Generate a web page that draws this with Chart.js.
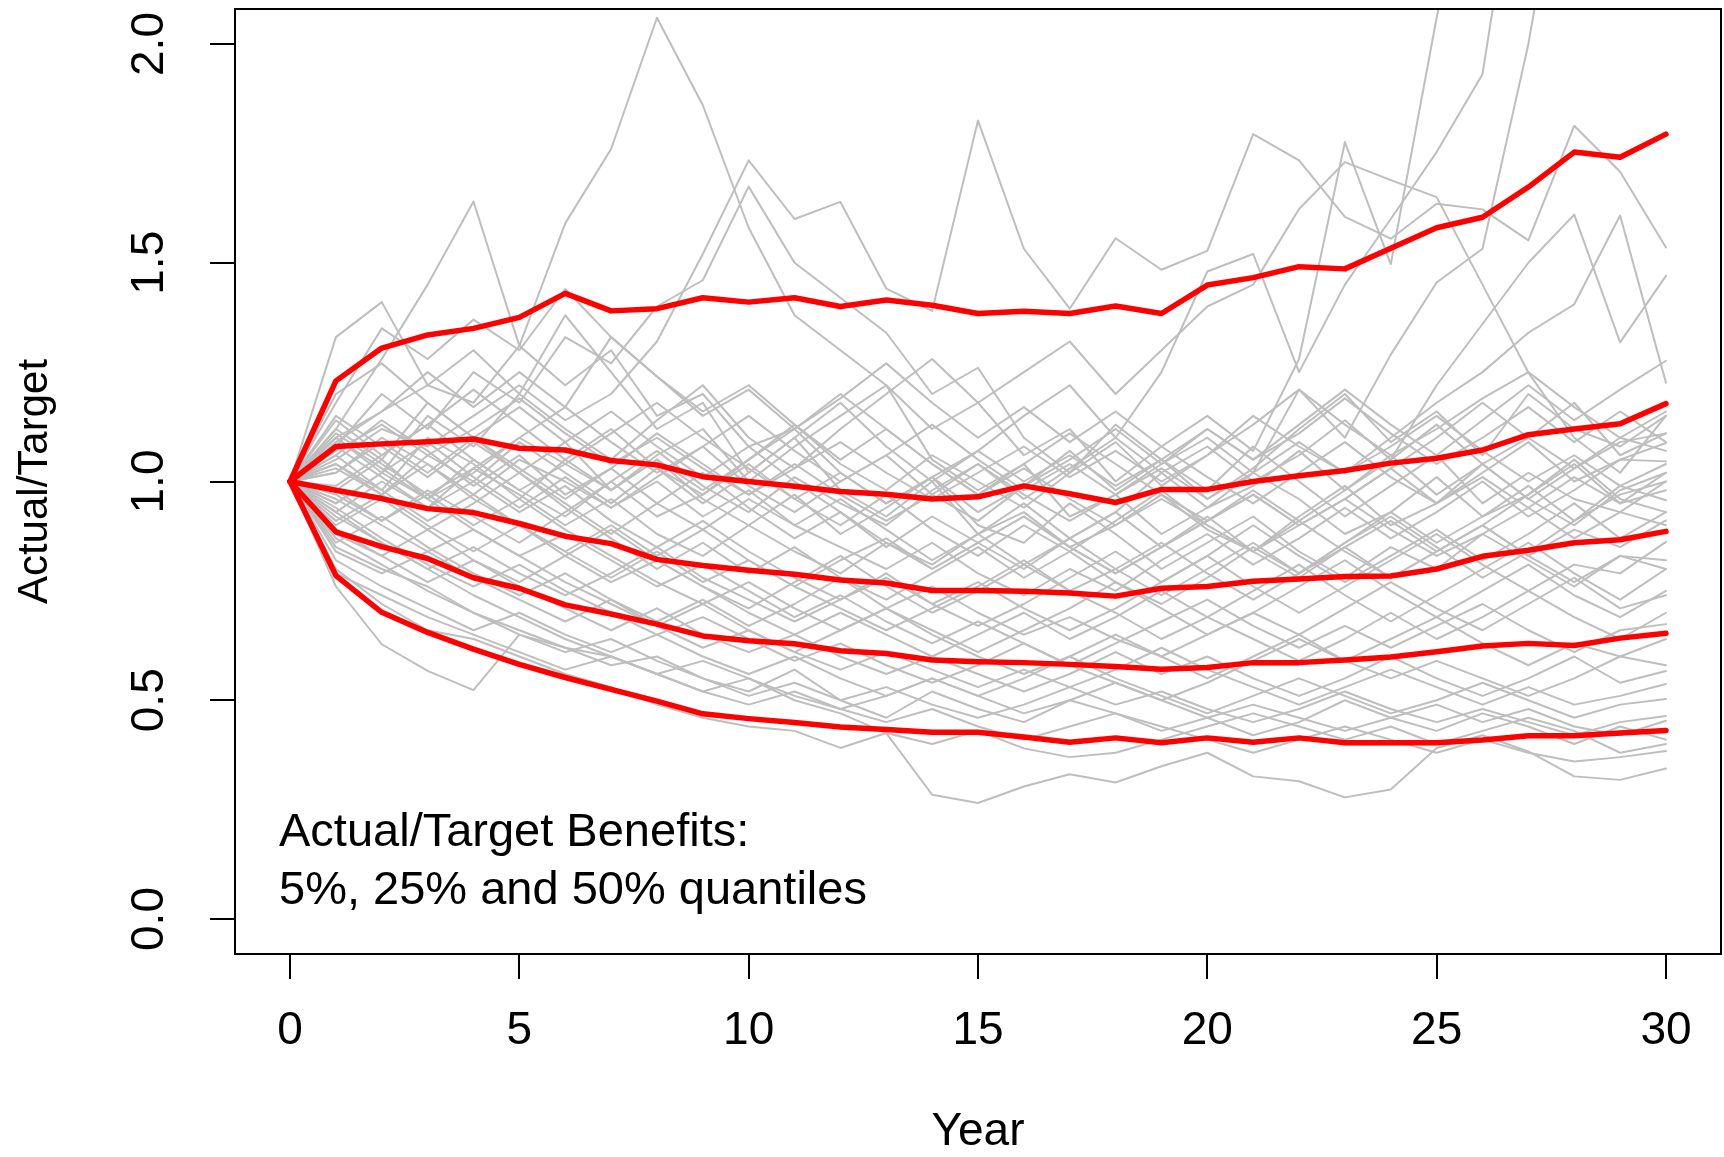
<!DOCTYPE html>
<html>
<head>
<meta charset="utf-8">
<title>Actual/Target Benefits</title>
<script src="https://cdn.jsdelivr.net/npm/chart.js@4.4.1/dist/chart.umd.min.js"></script>
<style>
  html, body { margin: 0; padding: 0; background: #fff; }
  canvas { display: block; }
</style>
</head>
<body>
<canvas id="benefits-chart" width="1724" height="1157"></canvas>
<script>
const years = [0, 1, 2, 3, 4, 5, 6, 7, 8, 9, 10, 11, 12, 13, 14, 15, 16, 17, 18, 19, 20, 21, 22, 23, 24, 25, 26, 27, 28, 29, 30];
const xTickValues = [0, 5, 10, 15, 20, 25, 30];
const yTickValues = [0, 0.5, 1, 1.5, 2];
const yTickLabels = ['0.0', '0.5', '1.0', '1.5', '2.0'];

// quantile lines (red)
const q95 = [1.00, 1.23, 1.305, 1.335, 1.35, 1.375, 1.43, 1.39, 1.395, 1.42, 1.41, 1.42, 1.40, 1.415, 1.403, 1.384, 1.389, 1.384, 1.401, 1.384, 1.449, 1.466, 1.491, 1.486, 1.533, 1.580, 1.604, 1.673, 1.753, 1.741, 1.794];
const q75 = [1.00, 1.08, 1.086, 1.091, 1.097, 1.076, 1.072, 1.048, 1.038, 1.011, 1.0, 0.989, 0.977, 0.971, 0.960, 0.965, 0.99, 0.972, 0.952, 0.982, 0.982, 1.0, 1.013, 1.025, 1.042, 1.053, 1.072, 1.107, 1.12, 1.132, 1.178];
const q50 = [1.00, 0.98, 0.961, 0.938, 0.929, 0.904, 0.875, 0.858, 0.822, 0.808, 0.797, 0.788, 0.775, 0.768, 0.751, 0.751, 0.749, 0.745, 0.738, 0.756, 0.760, 0.772, 0.777, 0.783, 0.784, 0.800, 0.829, 0.843, 0.860, 0.867, 0.886];
const q25 = [1.00, 0.885, 0.851, 0.824, 0.780, 0.756, 0.718, 0.697, 0.674, 0.647, 0.636, 0.629, 0.613, 0.607, 0.592, 0.588, 0.586, 0.582, 0.577, 0.571, 0.575, 0.586, 0.586, 0.592, 0.599, 0.611, 0.624, 0.630, 0.625, 0.642, 0.653];
const q05 = [1.00, 0.785, 0.701, 0.655, 0.617, 0.582, 0.552, 0.525, 0.498, 0.469, 0.458, 0.449, 0.439, 0.433, 0.427, 0.427, 0.416, 0.404, 0.414, 0.403, 0.414, 0.404, 0.414, 0.403, 0.403, 0.403, 0.409, 0.419, 0.419, 0.425, 0.431];

// individual simulated paths (grey)
const simPaths = [
  [1, 1.10, 1.16, 1.22, 1.18, 1.31, 1.59, 1.76, 2.06, 1.86, 1.58, 1.38, 1.30, 1.22, 1.05, 0.98, 1.04, 0.92, 0.97, 0.88, 0.94, 1.02, 0.96, 0.88, 0.93, 1.01, 0.92, 0.97, 1.05, 0.96, 0.93],
  [1, 1.12, 1.28, 1.45, 1.64, 1.31, 1.22, 1.30, 1.15, 1.20, 1.08, 1.12, 1.02, 0.95, 1.01, 0.90, 0.86, 0.95, 0.88, 0.80, 0.86, 0.92, 0.84, 0.78, 0.85, 0.80, 0.88, 0.82, 0.76, 0.83, 0.80],
  [1, 1.33, 1.41, 1.22, 1.30, 1.20, 1.38, 1.25, 1.12, 1.18, 1.02, 1.10, 0.98, 0.92, 1.00, 0.88, 0.93, 0.85, 0.90, 0.97, 0.89, 0.84, 0.92, 0.99, 0.90, 0.95, 1.04, 0.96, 0.90, 0.98, 1.02],
  [1, 1.05, 1.12, 1.08, 1.15, 1.22, 1.14, 1.20, 1.32, 1.52, 1.734, 1.60, 1.639, 1.441, 1.39, 1.825, 1.532, 1.395, 1.556, 1.484, 1.527, 1.794, 1.734, 1.605, 1.555, 1.635, 1.622, 1.551, 1.813, 1.708, 1.535],
  [1, 1.08, 1.20, 1.12, 1.25, 1.18, 1.33, 1.27, 1.40, 1.46, 1.674, 1.50, 1.42, 1.34, 1.20, 1.26, 1.10, 1.02, 1.13, 1.05, 0.98, 1.08, 1.00, 0.92, 0.99, 1.06, 0.95, 1.02, 0.96, 0.93, 1.00],
  [1, 0.98, 1.05, 0.96, 1.02, 1.10, 1.04, 0.98, 1.06, 1.12, 1.00, 1.08, 1.15, 1.22, 1.12, 1.18, 1.06, 1.12, 1.00, 1.08, 1.15, 1.07, 1.28, 1.776, 1.497, 2.06, 2.55, 2.9, 3.2, 3.4, 3.5],
  [1, 1.06, 0.98, 1.10, 1.04, 0.96, 1.05, 1.12, 1.03, 0.95, 1.02, 1.10, 1.18, 1.08, 1.00, 1.07, 1.15, 1.22, 1.10, 1.25, 1.48, 1.52, 1.25, 1.45, 1.60, 1.753, 1.931, 2.6, 2.9, 3.1, 3.3],
  [1, 1.02, 1.10, 1.04, 0.97, 1.05, 1.00, 0.94, 1.01, 1.08, 0.99, 0.93, 1.00, 1.06, 0.97, 0.91, 0.99, 1.05, 1.12, 1.04, 1.10, 1.02, 1.21, 1.10, 1.29, 1.455, 1.532, 2.0, 2.6, 3.0, 3.3],
  [1, 1.10, 1.02, 1.15, 1.08, 1.20, 1.12, 1.05, 1.14, 1.22, 1.10, 1.03, 1.12, 1.20, 1.28, 1.18, 1.25, 1.32, 1.20, 1.30, 1.40, 1.45, 1.623, 1.73, 1.689, 1.65, 1.45, 1.249, 1.10, 1.02, 1.15],
  [1, 0.95, 1.02, 0.96, 1.05, 0.98, 0.92, 1.00, 1.07, 0.99, 0.93, 1.01, 0.95, 0.90, 0.98, 1.04, 0.96, 1.03, 1.10, 1.02, 1.08, 1.00, 1.06, 1.14, 1.05, 1.22, 1.36, 1.50, 1.61, 1.318, 1.47],
  [1, 1.04, 0.97, 1.06, 1.00, 1.09, 1.02, 0.95, 1.03, 0.97, 1.05, 1.13, 1.04, 0.98, 1.06, 1.00, 0.94, 1.02, 1.09, 0.99, 1.06, 1.15, 1.08, 1.02, 1.10, 1.18, 1.25, 1.34, 1.405, 1.608, 1.226],
  [1, 0.85, 0.80, 0.76, 0.70, 0.66, 0.62, 0.60, 0.56, 0.52, 0.55, 0.50, 0.47, 0.425, 0.284, 0.265, 0.303, 0.331, 0.312, 0.349, 0.380, 0.326, 0.315, 0.278, 0.296, 0.391, 0.42, 0.383, 0.326, 0.318, 0.344],
  [1, 0.76, 0.628, 0.567, 0.523, 0.65, 0.62, 0.58, 0.60, 0.55, 0.52, 0.57, 0.50, 0.46, 0.52, 0.48, 0.45, 0.50, 0.47, 0.43, 0.46, 0.42, 0.45, 0.50, 0.46, 0.43, 0.47, 0.44, 0.40, 0.44, 0.41],
  [1, 0.80, 0.72, 0.66, 0.64, 0.60, 0.56, 0.53, 0.49, 0.46, 0.44, 0.43, 0.391, 0.425, 0.40, 0.43, 0.39, 0.37, 0.38, 0.41, 0.44, 0.47, 0.44, 0.41, 0.44, 0.40, 0.43, 0.46, 0.43, 0.38, 0.40],
  [1, 1.12, 1.05, 1.18, 1.10, 1.02, 1.09, 0.98, 1.05, 0.96, 0.90, 0.97, 0.88, 0.94, 1.01, 0.93, 0.99, 1.07, 0.98, 1.05, 0.96, 1.03, 1.12, 1.20, 1.09, 1.16, 1.06, 1.20, 1.12, 1.08, 1.15],
  [1, 0.93, 1.00, 0.94, 1.03, 0.97, 0.90, 0.96, 0.88, 0.83, 0.90, 0.84, 0.79, 0.86, 0.81, 0.88, 0.95, 0.87, 0.93, 1.02, 0.94, 0.99, 1.07, 0.98, 1.05, 1.13, 1.04, 1.10, 1.18, 1.06, 1.11],
  [1, 1.06, 1.14, 1.07, 0.99, 1.06, 0.97, 1.03, 0.95, 1.02, 0.94, 0.87, 0.93, 0.85, 0.92, 0.86, 0.80, 0.87, 0.93, 0.85, 0.91, 0.97, 0.90, 0.96, 1.03, 0.95, 1.02, 1.09, 1.00, 1.05, 1.088],
  [1, 0.97, 0.91, 0.98, 0.92, 0.86, 0.93, 1.00, 0.92, 0.97, 1.04, 0.96, 0.90, 0.97, 0.89, 0.83, 0.90, 0.84, 0.91, 0.98, 0.90, 0.84, 0.91, 0.98, 1.06, 0.97, 1.04, 0.96, 1.03, 1.10, 1.07],
  [1, 1.15, 1.08, 1.01, 1.09, 1.02, 0.95, 0.88, 0.95, 0.89, 0.96, 0.90, 0.85, 0.80, 0.86, 0.79, 0.74, 0.80, 0.75, 0.82, 0.88, 0.81, 0.87, 0.94, 0.87, 0.93, 1.00, 0.92, 0.98, 1.05, 1.046],
  [1, 0.90, 0.96, 0.89, 0.95, 1.02, 0.94, 0.87, 0.80, 0.86, 0.79, 0.85, 0.78, 0.73, 0.79, 0.85, 0.78, 0.84, 0.77, 0.72, 0.78, 0.85, 0.79, 0.86, 0.93, 0.86, 0.92, 0.99, 0.91, 0.97, 1.00],
  [1, 1.03, 0.97, 1.04, 0.96, 0.90, 0.84, 0.90, 0.83, 0.89, 0.82, 0.76, 0.82, 0.87, 0.80, 0.86, 0.92, 0.85, 0.79, 0.85, 0.92, 0.84, 0.78, 0.85, 0.91, 0.84, 0.90, 0.97, 1.04, 0.95, 0.98],
  [1, 0.88, 0.83, 0.89, 0.82, 0.77, 0.83, 0.89, 0.82, 0.76, 0.71, 0.77, 0.83, 0.76, 0.70, 0.75, 0.81, 0.87, 0.80, 0.86, 0.79, 0.73, 0.79, 0.86, 0.92, 0.85, 0.78, 0.84, 0.91, 0.99, 0.957],
  [1, 1.08, 1.01, 0.94, 1.00, 0.93, 0.99, 0.91, 0.85, 0.91, 0.84, 0.78, 0.73, 0.78, 0.72, 0.67, 0.72, 0.78, 0.84, 0.77, 0.83, 0.90, 0.83, 0.77, 0.83, 0.89, 0.82, 0.88, 0.95, 0.87, 0.93],
  [1, 0.95, 1.02, 1.09, 1.01, 0.94, 1.01, 0.94, 1.00, 0.92, 0.98, 0.90, 0.96, 0.89, 0.82, 0.88, 0.81, 0.75, 0.80, 0.74, 0.80, 0.86, 0.79, 0.85, 0.78, 0.84, 0.90, 0.83, 0.89, 0.85, 0.911],
  [1, 0.92, 0.86, 0.80, 0.85, 0.79, 0.74, 0.79, 0.85, 0.78, 0.73, 0.68, 0.73, 0.79, 0.72, 0.77, 0.71, 0.66, 0.71, 0.77, 0.83, 0.76, 0.70, 0.76, 0.82, 0.88, 0.81, 0.75, 0.81, 0.79, 0.862],
  [1, 1.04, 0.98, 0.91, 0.97, 0.90, 0.84, 0.78, 0.84, 0.77, 0.82, 0.76, 0.71, 0.66, 0.71, 0.76, 0.82, 0.75, 0.70, 0.64, 0.69, 0.75, 0.81, 0.74, 0.68, 0.74, 0.80, 0.86, 0.79, 0.73, 0.80],
  [1, 0.86, 0.92, 0.85, 0.79, 0.74, 0.79, 0.73, 0.68, 0.73, 0.67, 0.72, 0.78, 0.71, 0.66, 0.61, 0.66, 0.71, 0.77, 0.71, 0.65, 0.70, 0.76, 0.82, 0.75, 0.69, 0.75, 0.81, 0.74, 0.69, 0.75],
  [1, 0.98, 0.91, 0.97, 0.90, 0.96, 0.89, 0.83, 0.77, 0.72, 0.77, 0.71, 0.66, 0.71, 0.76, 0.70, 0.65, 0.69, 0.64, 0.60, 0.65, 0.70, 0.65, 0.71, 0.77, 0.71, 0.66, 0.72, 0.78, 0.71, 0.74],
  [1, 0.91, 0.97, 0.90, 0.84, 0.90, 0.83, 0.77, 0.82, 0.76, 0.70, 0.65, 0.70, 0.65, 0.60, 0.65, 0.70, 0.64, 0.69, 0.75, 0.69, 0.64, 0.59, 0.64, 0.70, 0.64, 0.69, 0.75, 0.69, 0.64, 0.70],
  [1, 1.10, 1.03, 0.96, 0.89, 0.83, 0.88, 0.82, 0.76, 0.81, 0.75, 0.69, 0.74, 0.68, 0.63, 0.68, 0.63, 0.58, 0.63, 0.68, 0.73, 0.67, 0.62, 0.67, 0.62, 0.67, 0.72, 0.66, 0.61, 0.66, 0.674],
  [1, 0.84, 0.79, 0.84, 0.78, 0.73, 0.68, 0.73, 0.67, 0.72, 0.66, 0.61, 0.66, 0.71, 0.65, 0.60, 0.56, 0.60, 0.65, 0.60, 0.55, 0.60, 0.65, 0.59, 0.64, 0.69, 0.63, 0.58, 0.63, 0.60, 0.64],
  [1, 0.94, 0.87, 0.81, 0.76, 0.81, 0.75, 0.70, 0.65, 0.69, 0.64, 0.59, 0.63, 0.58, 0.54, 0.58, 0.63, 0.58, 0.54, 0.50, 0.54, 0.59, 0.64, 0.59, 0.55, 0.59, 0.55, 0.51, 0.55, 0.60, 0.58],
  [1, 0.89, 0.83, 0.77, 0.82, 0.76, 0.71, 0.66, 0.71, 0.65, 0.61, 0.65, 0.60, 0.56, 0.60, 0.56, 0.52, 0.56, 0.61, 0.56, 0.60, 0.55, 0.51, 0.55, 0.60, 0.55, 0.51, 0.55, 0.60, 0.54, 0.567],
  [1, 0.96, 0.90, 0.84, 0.89, 0.83, 0.77, 0.72, 0.67, 0.62, 0.66, 0.61, 0.57, 0.61, 0.57, 0.53, 0.57, 0.53, 0.57, 0.62, 0.57, 0.53, 0.49, 0.53, 0.57, 0.53, 0.49, 0.53, 0.49, 0.51, 0.537],
  [1, 0.82, 0.76, 0.71, 0.66, 0.70, 0.65, 0.61, 0.65, 0.60, 0.56, 0.60, 0.55, 0.51, 0.55, 0.51, 0.55, 0.60, 0.55, 0.51, 0.47, 0.51, 0.55, 0.51, 0.47, 0.50, 0.54, 0.50, 0.46, 0.49, 0.503],
  [1, 0.87, 0.81, 0.75, 0.70, 0.65, 0.61, 0.64, 0.59, 0.55, 0.51, 0.54, 0.50, 0.53, 0.49, 0.46, 0.49, 0.53, 0.49, 0.52, 0.48, 0.45, 0.48, 0.52, 0.48, 0.45, 0.48, 0.45, 0.42, 0.45, 0.464],
  [1, 0.93, 0.86, 0.80, 0.74, 0.69, 0.64, 0.60, 0.56, 0.59, 0.55, 0.51, 0.48, 0.51, 0.55, 0.51, 0.47, 0.50, 0.54, 0.50, 0.46, 0.49, 0.46, 0.43, 0.46, 0.49, 0.45, 0.48, 0.44, 0.42, 0.453],
  [1, 0.79, 0.74, 0.69, 0.65, 0.61, 0.57, 0.60, 0.56, 0.52, 0.49, 0.52, 0.48, 0.45, 0.48, 0.44, 0.41, 0.44, 0.47, 0.44, 0.41, 0.38, 0.41, 0.44, 0.41, 0.38, 0.41, 0.38, 0.36, 0.37, 0.384],
  [1, 1.02, 1.09, 1.02, 1.10, 1.03, 0.96, 1.03, 1.11, 1.04, 0.97, 1.04, 0.97, 0.91, 0.97, 1.04, 0.97, 0.91, 0.97, 1.04, 1.12, 1.05, 1.13, 1.21, 1.13, 1.06, 1.14, 1.22, 1.14, 1.21, 1.276],
  [1, 1.20, 1.27, 1.18, 1.10, 1.17, 1.09, 1.16, 1.08, 1.01, 1.08, 1.00, 0.93, 0.86, 0.80, 0.86, 0.92, 0.85, 0.79, 0.85, 0.91, 0.98, 0.91, 0.84, 0.78, 0.84, 0.90, 0.83, 0.77, 0.83, 0.82],
  [1, 1.18, 1.35, 1.28, 1.37, 1.30, 1.44, 1.33, 1.24, 1.16, 1.22, 1.13, 1.05, 1.12, 1.04, 0.97, 1.03, 0.96, 0.90, 0.96, 0.90, 0.84, 0.90, 0.96, 0.89, 0.83, 0.88, 0.94, 0.87, 0.93, 0.90],
  [1, 1.09, 1.16, 1.25, 1.17, 1.25, 1.17, 1.33, 1.24, 1.15, 1.21, 1.12, 1.19, 1.27, 1.18, 1.10, 1.17, 1.09, 1.16, 1.08, 1.01, 0.95, 1.02, 1.09, 1.01, 0.95, 1.01, 0.94, 1.01, 0.95, 1.02],
  [1, 1.14, 1.06, 1.13, 1.21, 1.13, 1.05, 0.98, 1.05, 0.98, 1.05, 1.12, 1.20, 1.12, 1.04, 0.97, 1.04, 1.11, 1.04, 0.97, 0.91, 0.97, 0.90, 0.96, 1.03, 1.10, 1.18, 1.10, 1.03, 1.09, 1.11],
  [1, 1.07, 1.13, 1.06, 1.12, 1.19, 1.11, 1.04, 1.10, 1.03, 0.97, 1.03, 1.09, 1.02, 0.96, 1.02, 1.08, 1.01, 1.07, 1.00, 1.06, 1.13, 1.21, 1.13, 1.06, 1.12, 1.19, 1.25, 1.17, 1.10, 1.16],
  [1, 0.99, 1.06, 1.13, 1.05, 0.98, 1.04, 1.11, 1.18, 1.10, 1.03, 0.96, 1.02, 0.95, 1.01, 1.07, 1.00, 1.06, 0.99, 1.05, 1.12, 1.05, 1.11, 1.19, 1.11, 1.04, 1.10, 1.17, 1.09, 1.16, 1.09],
  [1, 1.11, 1.04, 0.97, 1.03, 1.10, 1.17, 1.09, 1.02, 1.08, 1.15, 1.07, 1.00, 1.06, 1.13, 1.05, 0.98, 1.04, 0.97, 1.03, 0.96, 1.02, 1.09, 1.02, 1.08, 1.15, 1.07, 1.00, 1.06, 0.99, 1.04]
];

const FONT = '"Liberation Sans", Arial, Helvetica, sans-serif';

function toPoints(values) {
  return years.map((yr, i) => ({ x: yr, y: values[i] }));
}

const greySets = simPaths.map(path => ({
  data: toPoints(path),
  borderColor: '#bebebe',
  borderWidth: 2,
  order: 1
}));

const redSets = [q95, q75, q50, q25, q05].map(q => ({
  data: toPoints(q),
  borderColor: '#ff0000',
  borderWidth: 5.5,
  order: 0
}));

// white background, plot frame, tick labels, axis titles and the note
const frameAndText = {
  id: 'frameAndText',
  beforeDraw(chart) {
    const ctx = chart.ctx;
    ctx.save();
    ctx.fillStyle = '#fff';
    ctx.fillRect(0, 0, chart.width, chart.height);
    ctx.restore();
  },
  afterDraw(chart) {
    const { ctx, chartArea: a, scales: { x, y } } = chart;
    ctx.save();
    ctx.strokeStyle = '#000';
    ctx.lineWidth = 2;
    ctx.strokeRect(a.left, a.top, a.right - a.left, a.bottom - a.top);

    ctx.fillStyle = '#000';
    ctx.font = '46px ' + FONT;
    ctx.textAlign = 'center';
    ctx.textBaseline = 'middle';
    xTickValues.forEach(v => {
      ctx.fillText(String(v), x.getPixelForValue(v), a.bottom + 77);
    });
    yTickValues.forEach((v, i) => {
      ctx.save();
      ctx.translate(a.left - 85, y.getPixelForValue(v));
      ctx.rotate(-Math.PI / 2);
      ctx.fillText(yTickLabels[i], 0, 0);
      ctx.restore();
    });

    ctx.fillText('Year', (a.left + a.right) / 2, a.bottom + 178);
    ctx.save();
    ctx.font = '42px ' + FONT;
    ctx.translate(35, (a.top + a.bottom) / 2);
    ctx.rotate(-Math.PI / 2);
    ctx.fillText('Actual/Target', 0, 0);
    ctx.restore();

    ctx.textAlign = 'left';
    ctx.textBaseline = 'alphabetic';
    ctx.font = '47px ' + FONT;
    ctx.fillText('Actual/Target Benefits:', a.left + 44, a.bottom - 108);
    ctx.fillText('5%, 25% and 50% quantiles', a.left + 44, a.bottom - 50);
    ctx.restore();
  }
};

const axisGrid = {
  drawOnChartArea: false,
  drawTicks: true,
  tickLength: 25,
  color: '#000',
  lineWidth: 2
};

new Chart(document.getElementById('benefits-chart'), {
  type: 'line',
  data: { datasets: [...redSets, ...greySets] },
  options: {
    responsive: false,
    animation: false,
    events: [],
    clip: 0,
    layout: { padding: { top: 9, right: 3, left: 0, bottom: 0 } },
    elements: {
      point: { radius: 0 },
      line: { tension: 0, borderJoinStyle: 'round', borderCapStyle: 'round' }
    },
    plugins: {
      legend: { display: false },
      tooltip: { enabled: false }
    },
    scales: {
      x: {
        type: 'linear',
        min: -1.2,
        max: 31.2,
        afterBuildTicks: scale => { scale.ticks = xTickValues.map(v => ({ value: v })); },
        afterFit: scale => { scale.height = 203; },
        ticks: { display: false },
        grid: axisGrid,
        border: { display: false }
      },
      y: {
        type: 'linear',
        min: -0.08,
        max: 2.08,
        afterBuildTicks: scale => { scale.ticks = yTickValues.map(v => ({ value: v })); },
        afterFit: scale => { scale.width = 235; },
        ticks: { display: false },
        grid: axisGrid,
        border: { display: false }
      }
    }
  },
  plugins: [frameAndText]
});
</script>
</body>
</html>
